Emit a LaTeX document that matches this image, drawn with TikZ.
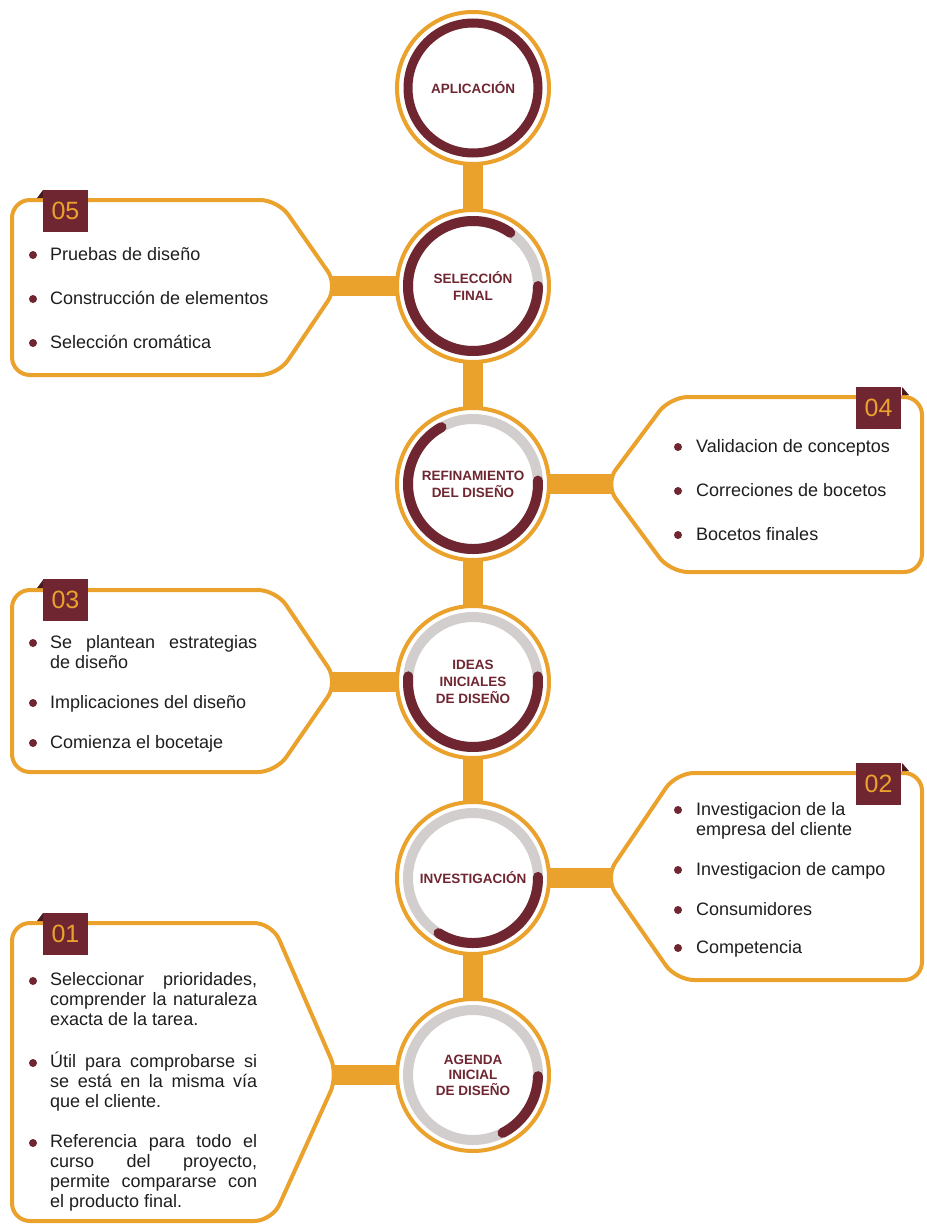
\documentclass[tikz,border=0pt]{standalone}
\usepackage{fontspec}
\setmainfont{Liberation Sans}
\usetikzlibrary{backgrounds}
\definecolor{gold}{HTML}{EAA22C}
\definecolor{wine}{HTML}{6F2630}
\definecolor{ringgrey}{HTML}{D2CECD}
\definecolor{ink}{HTML}{1E1E1E}
\definecolor{folddark}{HTML}{4A1A20}
\newcommand\jline[1]{\makebox[207pt][s]{#1}}
\begin{document}
\begin{tikzpicture}[x=1pt,y=1pt,
  stage/.style={circle, draw=gold, line width=4pt, fill=white, minimum size=152pt, inner sep=0pt, align=center, text=wine, font=\bfseries\fontsize{13.5}{17}\selectfont},
  panel/.style={draw=gold, line width=4pt, fill=white, rounded corners=18pt},
  tabbox/.style={fill=wine, text=gold, minimum width=45pt, minimum height=42pt, inner sep=0pt, font=\fontsize{25}{25}\selectfont},
  foldtri/.style={fill=folddark},
  itemtxt/.style={anchor=base west, inner sep=0pt, text=ink, font=\fontsize{18}{20}\selectfont},
  bulletdot/.style={fill=wine},
  bar/.style={draw=gold, line width=20pt},
  track/.style={draw=ringgrey, line width=10pt},
  prog/.style={draw=wine, line width=10pt, line cap=round}
]
\useasboundingbox (0,0) rectangle (926,-1225);

% ---------- panels ----------
\draw[panel] (12,-200) -- (278,-200) -- (338,-286) -- (278,-375) -- (12,-375) -- cycle;
\coordinate (t5) at (315,-286);
\draw[panel] (922,-397) -- (670,-397) -- (605,-484) -- (670,-572) -- (922,-572) -- cycle;
\coordinate (t4) at (628,-484);
\draw[panel] (12,-590) -- (276,-590) -- (338,-682) -- (276,-772) -- (12,-772) -- cycle;
\coordinate (t3) at (315,-682);
\draw[panel] (922,-773) -- (676,-773) -- (605,-878) -- (676,-980) -- (922,-980) -- cycle;
\coordinate (t2) at (628,-878);
\draw[panel] (12,-923) -- (272,-923) -- (338,-1075) -- (272,-1221) -- (12,-1221) -- cycle;
\coordinate (t1) at (315,-1075);

% ---------- number tabs ----------
\fill[foldtri] (37,-198) -- (43,-190) -- (43,-198) -- cycle;
\node[tabbox] (n5) at (65.5,-211) {05};
\fill[foldtri] (902,-387) -- (909,-395) -- (902,-395) -- cycle;
\node[tabbox] (n4) at (878.5,-408) {04};
\fill[foldtri] (37,-588) -- (43,-580) -- (43,-588) -- cycle;
\node[tabbox] (n3) at (65.5,-600) {03};
\fill[foldtri] (902,-763) -- (909,-771) -- (902,-771) -- cycle;
\node[tabbox] (n2) at (878.5,-784) {02};
\fill[foldtri] (37,-921) -- (43,-913) -- (43,-921) -- cycle;
\node[tabbox] (n1) at (65.5,-934) {01};

% ---------- box 05 ----------
\fill[bulletdot] (33,-255) circle[radius=4pt];
\node[itemtxt] (i5a) at (50,-260) {Pruebas de diseño};
\fill[bulletdot] (33,-299) circle[radius=4pt];
\node[itemtxt] (i5b) at (50,-304) {Construcción de elementos};
\fill[bulletdot] (33,-343) circle[radius=4pt];
\node[itemtxt] (i5c) at (50,-348) {Selección cromática};

% ---------- box 04 ----------
\fill[bulletdot] (678,-447) circle[radius=4pt];
\node[itemtxt] (i4a) at (696,-452) {Validacion de conceptos};
\fill[bulletdot] (678,-491) circle[radius=4pt];
\node[itemtxt] (i4b) at (696,-496) {Correciones de bocetos};
\fill[bulletdot] (678,-535) circle[radius=4pt];
\node[itemtxt] (i4c) at (696,-540) {Bocetos finales};

% ---------- box 03 ----------
\fill[bulletdot] (33,-643) circle[radius=4pt];
\node[itemtxt] (i3a) at (50,-648) {\parbox[t]{210pt}{\jline{Se plantean estrategias}\\de diseño}};
\fill[bulletdot] (33,-703) circle[radius=4pt];
\node[itemtxt] (i3b) at (50,-708) {Implicaciones del diseño};
\fill[bulletdot] (33,-743) circle[radius=4pt];
\node[itemtxt] (i3c) at (50,-748) {Comienza el bocetaje};

% ---------- box 02 ----------
\fill[bulletdot] (678,-810) circle[radius=4pt];
\node[itemtxt] (i2a) at (696,-815) {\parbox[t]{220pt}{Investigacion de la\\empresa del cliente}};
\fill[bulletdot] (678,-870) circle[radius=4pt];
\node[itemtxt] (i2b) at (696,-875) {Investigacion de campo};
\fill[bulletdot] (678,-910) circle[radius=4pt];
\node[itemtxt] (i2c) at (696,-915) {Consumidores};
\fill[bulletdot] (678,-948) circle[radius=4pt];
\node[itemtxt] (i2d) at (696,-953) {Competencia};

% ---------- box 01 ----------
\fill[bulletdot] (33,-981) circle[radius=4pt];
\node[itemtxt] (i1a) at (50,-985) {\parbox[t]{210pt}{\jline{Seleccionar prioridades,}\\\jline{comprender la naturaleza}\\exacta de la tarea.}};
\fill[bulletdot] (33,-1063) circle[radius=4pt];
\node[itemtxt] (i1b) at (50,-1067) {\parbox[t]{210pt}{\jline{Útil para comprobarse si}\\\jline{se está en la misma vía}\\que el cliente.}};
\fill[bulletdot] (33,-1143) circle[radius=4pt];
\node[itemtxt] (i1c) at (50,-1147) {\parbox[t]{210pt}{\jline{Referencia para todo el}\\\jline{curso del proyecto,}\\\jline{permite compararse con}\\el producto final.}};

% ---------- stage circles ----------
\node[stage] (c1) at (473,-88) {APLICACIÓN};
\node[stage] (c2) at (473,-286) {SELECCIÓN\\FINAL};
\node[stage] (c3) at (473,-484) {REFINAMIENTO\\DEL DISEÑO};
\node[stage] (c4) at (473,-682) {IDEAS\\INICIALES\\DE DISEÑO};
\node[stage] (c5) at (473,-878) {INVESTIGACIÓN};
\node[stage, font=\bfseries\fontsize{13.5}{15.5}\selectfont] (c6) at (473,-1075) {AGENDA\\INICIAL\\DE DISEÑO};

% progress rings
\draw[draw=wine, line width=9pt] (c1.center) circle[radius=65pt];
\draw[track] (c2.center) circle[radius=65pt];
\draw[prog] (c2.center) ++(55:65pt) arc[start angle=55, end angle=360, radius=65pt];
\draw[track] (c3.center) circle[radius=65pt];
\draw[prog] (c3.center) ++(119:65pt) arc[start angle=119, end angle=363, radius=65pt];
\draw[track] (c4.center) circle[radius=65pt];
\draw[prog] (c4.center) ++(175:65pt) arc[start angle=175, end angle=365, radius=65pt];
\draw[track] (c5.center) circle[radius=65pt];
\draw[prog] (c5.center) ++(238:65pt) arc[start angle=238, end angle=361, radius=65pt];
\draw[track] (c6.center) circle[radius=65pt];
\draw[prog] (c6.center) ++(297:65pt) arc[start angle=297, end angle=359, radius=65pt];

% ---------- connectors (behind) ----------
\begin{scope}[on background layer]
\fill[white] (0,0) rectangle (926,-1225);
\draw[bar] (c1.center) -- (c2.center);
\draw[bar] (c2.center) -- (c3.center);
\draw[bar] (c3.center) -- (c4.center);
\draw[bar] (c4.center) -- (c5.center);
\draw[bar] (c5.center) -- (c6.center);
\draw[bar] (t5) -- (c2.center);
\draw[bar] (t4) -- (c3.center);
\draw[bar] (t3) -- (c4.center);
\draw[bar] (t2) -- (c5.center);
\draw[bar] (t1) -- (c6.center);
\end{scope}
\end{tikzpicture}
\end{document}
